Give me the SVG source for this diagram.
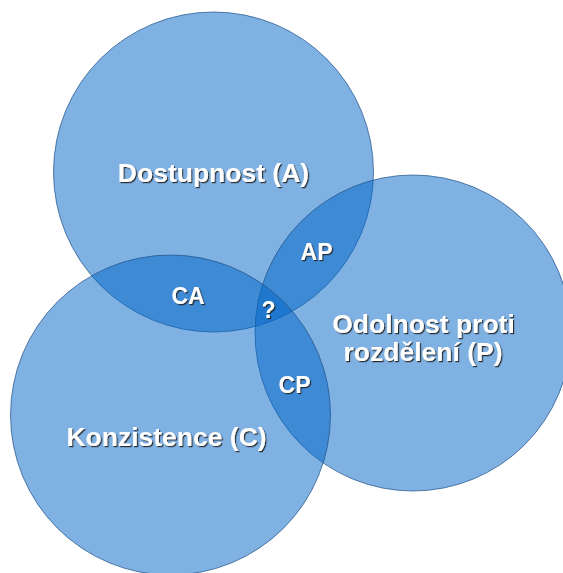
<svg xmlns="http://www.w3.org/2000/svg" width="563" height="573" viewBox="0 0 563 573">
<defs>
<filter id="sh" x="-10%" y="-20%" width="120%" height="150%">
<feDropShadow dx="1.2" dy="1.2" stdDeviation="0.4" flood-color="#1a1a1a" flood-opacity="0.9"/>
</filter>
</defs>
<style>
.c{fill:#0064c8;fill-opacity:0.5;stroke:#1d4f86;stroke-opacity:0.7;stroke-width:1}
.t{font-family:"Liberation Sans",Arial,sans-serif;font-weight:bold;fill:#ffffff;text-anchor:middle;filter:url(#sh)}
.b{font-size:26.5px}
.s{font-size:23px}
</style>
<rect width="563" height="573" fill="#ffffff"/>
<g id="circleA"><circle class="c" cx="213.5" cy="172" r="160"/></g>
<g id="circleP"><circle class="c" cx="413" cy="333" r="158"/></g>
<g id="circleC"><circle class="c" cx="170.5" cy="415" r="160"/></g>
<g id="labels">
<text class="t b" x="213.5" y="182">Dostupnost (A)</text>
<text class="t b" x="423.5" y="333">Odolnost proti</text>
<text class="t b" x="423" y="361">rozdělení (P)</text>
<text class="t b" x="166.5" y="446">Konzistence (C)</text>
<text class="t s" x="188" y="304">CA</text>
<text class="t s" x="316.5" y="260">AP</text>
<text class="t s" x="294.5" y="393">CP</text>
<text class="t s" x="268.5" y="318">?</text>
</g>
</svg>
